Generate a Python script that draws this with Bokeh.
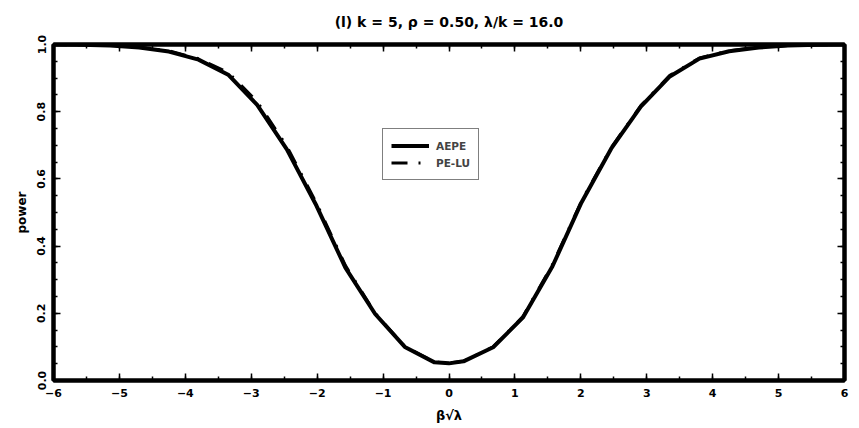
from bokeh.plotting import figure
from bokeh.models import (Range1d, LinearAxis, SingleIntervalTicker, Legend,
                          LegendItem, PrintfTickFormatter, CustomJSTickFormatter,
                          ColumnDataSource)
from bokeh.embed import file_html
from bokeh.resources import INLINE

# Power curves against beta * sqrt(lambda)
beta_sqrt_lambda = [-6.04, -5.59, -5.14, -4.70, -4.25, -3.80, -3.35, -2.91, -2.46,
                    -2.01, -1.57, -1.12, -0.67, -0.22, 0.00, 0.22, 0.67, 1.12,
                    1.57, 2.01, 2.46, 2.91, 3.35, 3.80, 4.25, 4.70, 5.14, 5.59, 6.04]
power_aepe = [1.000, 0.999, 0.997, 0.991, 0.979, 0.955, 0.910, 0.820, 0.688,
              0.520, 0.335, 0.198, 0.100, 0.054, 0.051, 0.057, 0.099, 0.187,
              0.340, 0.530, 0.690, 0.815, 0.905, 0.958, 0.980, 0.991, 0.997, 0.999, 1.000]
power_pelu = [1.000, 0.999, 0.997, 0.992, 0.981, 0.958, 0.917, 0.830, 0.697,
              0.528, 0.342, 0.200, 0.101, 0.055, 0.052, 0.057, 0.100, 0.190,
              0.345, 0.534, 0.693, 0.818, 0.908, 0.960, 0.981, 0.992, 0.997, 0.999, 1.000]

x_ticks = [-6, -5, -4, -3, -2, -1, 0, 1, 2, 3, 4, 5, 6]
x_tick_labels = ["\u22126", "\u22125", "\u22124", "\u22123", "\u22122", "\u22121",
                 "0", "1", "2", "3", "4", "5", "6"]
panel_title = "(l) k = 5, \u03c1 = 0.50, \u03bb/k = 16.0"

FONT = "DejaVu Sans"

src = ColumnDataSource(dict(x=beta_sqrt_lambda, aepe=power_aepe, pelu=power_pelu))

p = figure(width=859, height=428, output_backend="svg", toolbar_location=None,
           x_range=Range1d(-6, 6), y_range=Range1d(0, 1),
           min_border_left=53, min_border_right=15, min_border_top=44,
           min_border_bottom=48, title=panel_title)

p.title.align = "center"
p.title.vertical_align = "top"
p.title.text_font = FONT
p.title.text_font_style = "bold"
p.title.text_font_size = "14px"
p.title.text_color = "black"
p.title.standoff = 26

p.grid.visible = False
p.outline_line_color = "black"
p.outline_line_width = 4
p.background_fill_color = "white"
p.border_fill_color = "white"

# Secondary axes on top and right carry only inward ticks, no labels
blank = CustomJSTickFormatter(code="return ''")
p.add_layout(LinearAxis(formatter=blank), "above")
p.add_layout(LinearAxis(formatter=blank), "right")

for ax in p.xaxis:
    ax.ticker = SingleIntervalTicker(interval=1, num_minor_ticks=2)
for ax in p.yaxis:
    ax.ticker = SingleIntervalTicker(interval=0.2, num_minor_ticks=4)

for ax in p.axis:
    ax.axis_line_width = 4
    ax.axis_line_color = "black"
    ax.major_tick_in = 7
    ax.major_tick_out = 0
    ax.minor_tick_in = 4
    ax.minor_tick_out = 0
    ax.major_tick_line_width = 1.5
    ax.minor_tick_line_width = 1.5
    ax.major_tick_line_color = "black"
    ax.minor_tick_line_color = "black"
    ax.major_label_text_font = FONT
    ax.major_label_text_font_style = "bold"
    ax.major_label_text_font_size = "11px"
    ax.major_label_text_color = "black"
    ax.axis_label_text_font = FONT
    ax.axis_label_text_font_style = "bold"
    ax.axis_label_text_color = "black"

top_ax, bottom_ax = p.above[-1], p.below[0]
left_ax, right_ax = p.left[0], p.right[-1]
for ax in (top_ax, right_ax):
    ax.major_label_standoff = 0

bottom_ax.major_label_overrides = {float(v): t for v, t in zip(x_ticks, x_tick_labels)}
bottom_ax.major_label_standoff = 8
bottom_ax.axis_label = "\u03b2\u221a\u03bb"
bottom_ax.axis_label_text_font_size = "13px"
bottom_ax.axis_label_standoff = 8

left_ax.formatter = PrintfTickFormatter(format="%.1f")
left_ax.major_label_orientation = "vertical"
left_ax.major_label_standoff = 8
left_ax.axis_label = "power"
left_ax.axis_label_text_font_size = "12px"
left_ax.axis_label_standoff = 6

r_aepe = p.line("x", "aepe", source=src, line_color="black", line_width=4)
r_pelu = p.line("x", "pelu", source=src, line_color="black", line_width=3,
                line_dash="16 11 2 11")

legend = Legend(items=[LegendItem(label="AEPE", renderers=[r_aepe]),
                       LegendItem(label="PE-LU", renderers=[r_pelu])],
                location=(329, 200))
legend.border_line_color = "black"
legend.border_line_width = 1.5
legend.background_fill_alpha = 1
legend.padding = 8
legend.spacing = 0
legend.margin = 0
legend.label_height = 17
legend.glyph_height = 17
legend.glyph_width = 38
legend.label_standoff = 7
legend.label_text_font = FONT
legend.label_text_font_style = "bold"
legend.label_text_font_size = "10.5px"
p.add_layout(legend, "center")

open("out.html", "w").write(file_html(p, INLINE))
